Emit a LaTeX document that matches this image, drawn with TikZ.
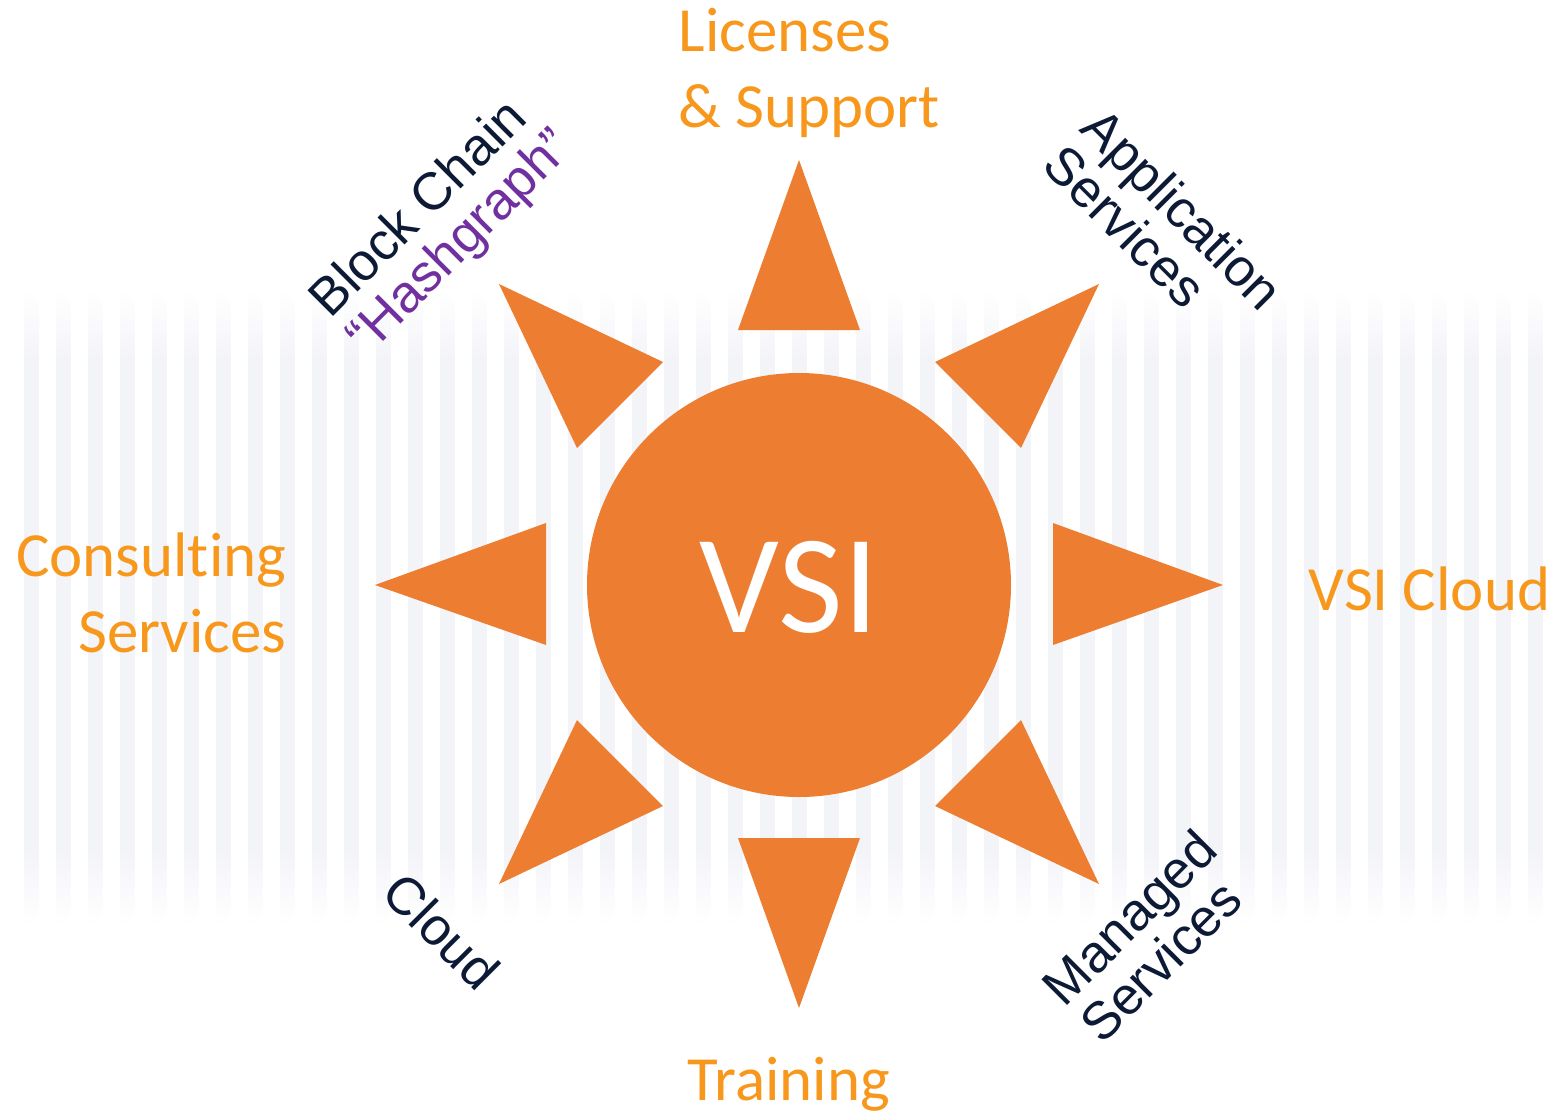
\documentclass[tikz,border=0pt]{standalone}
\usepackage{fontspec}
\setmainfont{Carlito}[Ligatures=NoCommon]
\newfontfamily\labelfont{Liberation Sans}
\definecolor{vsiorange}{HTML}{ED7D31}
\definecolor{textorange}{HTML}{F7981D}
\definecolor{labelnavy}{HTML}{0C1A36}
\definecolor{hashpurple}{HTML}{7030A0}
\definecolor{stripe}{HTML}{F3F4F8}

\begin{document}
\begin{tikzpicture}[
  offer/.style={text=textorange, font=\fontsize{17.9}{21.6}\selectfont, inner sep=0pt},
  service/.style={text=labelnavy, font=\labelfont\fontsize{15}{15}\selectfont, align=left, inner sep=0pt},
  ray/.style={fill=vsiorange}]
  \useasboundingbox (0,0) rectangle (15.58,-11.11);

  \foreach \x in {0.24,0.56,...,15.50} {
    \shade[top color=white, bottom color=stripe] (\x,-2.90) rectangle (\x+0.15,-3.60);
    \fill[stripe] (\x,-3.60) rectangle (\x+0.15,-8.50);
    \shade[top color=stripe, bottom color=white] (\x,-8.50) rectangle (\x+0.15,-9.25);
  }

  \fill[ray] (7.99,-1.60) -- (8.60,-3.30) -- (7.38,-3.30) -- cycle;
  \fill[ray] (10.99,-2.84) -- (10.21,-4.48) -- (9.35,-3.62) -- cycle;
  \fill[ray] (12.23,-5.85) -- (10.53,-6.45) -- (10.53,-5.23) -- cycle;
  \fill[ray] (10.99,-8.84) -- (9.35,-8.06) -- (10.21,-7.20) -- cycle;
  \fill[ray] (7.99,-10.08) -- (7.38,-8.38) -- (8.60,-8.38) -- cycle;
  \fill[ray] (4.99,-8.84) -- (5.77,-7.20) -- (6.63,-8.06) -- cycle;
  \fill[ray] (3.75,-5.85) -- (5.46,-5.23) -- (5.46,-6.45) -- cycle;
  \fill[ray] (4.99,-2.84) -- (6.63,-3.62) -- (5.77,-4.48) -- cycle;

  \node[circle, fill=vsiorange, minimum size=4.24cm, inner sep=0pt] (vsi) at (7.99,-5.85) {};
  \node[text=white, font=\fontsize{40}{40}\selectfont, anchor=base] (vsiname) at (7.89,-6.32) {VSI};

  \node[offer, anchor=base west, align=left] (licenses) at (6.78,-1.27) {Licenses\\\& Support};
  \node[offer, anchor=base east, align=right] (consulting) at (2.87,-6.52) {Consulting\\Services};
  \node[offer, anchor=base west] (vsicloud) at (13.08,-6.10) {VSI Cloud};
  \node[offer, anchor=base] (training) at (7.89,-11.00) {Training};

  \node[service, rotate=45] (blockchain) at (4.43,-2.25) {Block Chain\\\textcolor{hashpurple}{“Hashgraph”}};
  \node[service, rotate=-45] (application) at (11.64,-2.27) {Application\\Services};
  \node[service, rotate=-45] (cloud) at (4.42,-9.31) {Cloud};
  \node[service, rotate=45] (managed) at (11.48,-9.36) {Managed\\Services};
\end{tikzpicture}
\end{document}
